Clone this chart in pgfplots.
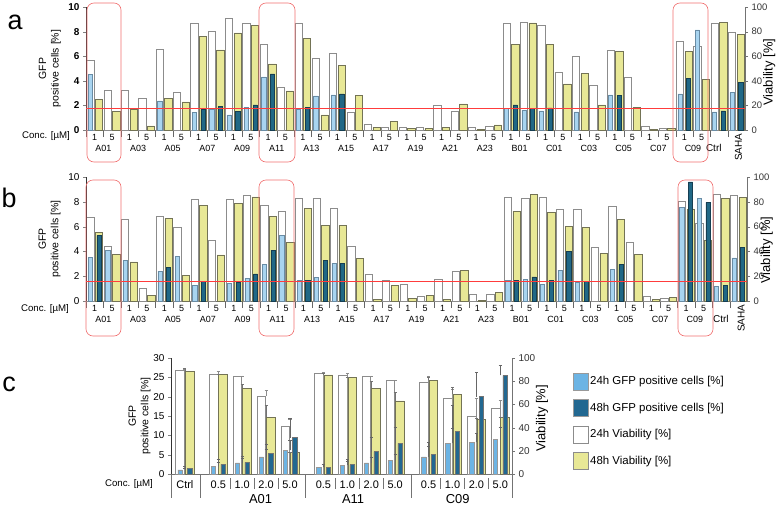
\documentclass[border=0pt]{standalone}
\usepackage{pgfplots}
\pgfplotsset{compat=1.18}
\usepackage{pgfplotstable}
\usepackage{fontspec}
\setmainfont{Liberation Sans}

\definecolor{vyel}{RGB}{232,232,150}
\definecolor{vyeldraw}{RGB}{115,115,85}
\definecolor{gblue}{RGB}{168,212,240}
\definecolor{gbluedraw}{RGB}{105,140,165}
\definecolor{gdark}{RGB}{32,104,134}
\definecolor{gdarkdraw}{RGB}{22,62,82}
\definecolor{cblue}{RGB}{108,180,228}
\definecolor{cdark}{RGB}{34,104,145}
\definecolor{redl}{RGB}{255,60,60}
\definecolor{boxred}{RGB}{240,110,110}

% n = concentration index (A01 1uM = 0, A01 5uM = 1, ... C09 5uM = 35, Ctrl = 36, SAHA = 37)
\pgfplotstableread{
n v24 v48 g24 g48
0 56.5 24.7 4.5 nan
1 32.6 15.2 nan nan
2 32.6 17.1 nan nan
3 25.5 3.3 nan nan
4 66.0 25.5 2.36 nan
5 30.4 22.8 nan nan
6 87.0 75.8 1.44 1.66
7 80.0 65.2 1.71 1.90
8 90.5 79.0 1.22 1.49
9 87.0 85.0 1.85 2.04
10 69.3 53.8 4.32 4.57
11 35.0 31.8 nan nan
12 87.0 74.2 1.68 1.85
13 58.7 12.2 2.77 nan
14 62.0 52.2 2.85 2.93
15 14.7 28.3 nan nan
16 4.9 2.2 nan nan
17 2.2 6.8 nan nan
18 2.4 1.6 nan nan
19 2.4 1.6 nan nan
20 20.4 2.2 nan nan
21 15.5 21.2 nan nan
22 2.4 0.5 nan nan
23 3.0 4.1 nan nan
24 87.0 69.6 1.77 2.04
25 87.5 87.0 1.60 1.74
26 84.8 69.8 1.55 1.79
27 46.7 37.5 nan nan
28 59.8 45.7 1.47 nan
29 36.1 20.4 nan nan
30 65.2 63.6 2.85 2.80
31 42.9 18.5 nan nan
32 3.3 0.8 nan nan
33 1.6 1.6 nan nan
34 72.3 64.1 2.93 4.20
35 68.2 41.3 8.15 nan
36 86.4 87.2 1.47 1.55
37 79.6 78.0 3.04 3.86
}\dataA

\pgfplotstableread{
n v24 v48 g24 g48
0 67.2 55.6 3.49 5.27
1 44.1 37.6 4.11 nan
2 65.9 31.5 3.25 nan
3 10.5 4.6 nan nan
4 68.0 66.7 2.39 2.74
5 59.4 20.7 3.60 nan
6 81.7 77.2 1.26 1.61
7 48.9 37.1 nan nan
8 82.0 78.8 1.45 1.50
9 85.2 83.9 1.83 2.18
10 77.2 68.3 2.96 4.11
11 72.3 47.3 5.27 nan
12 82.8 74.7 1.64 1.67
13 82.8 60.8 1.88 3.30
14 74.5 61.0 3.04 3.06
15 44.4 34.1 nan nan
16 21.2 1.3 nan nan
17 16.7 12.6 nan nan
18 13.4 1.9 nan nan
19 3.5 4.3 nan nan
20 17.7 1.3 nan nan
21 23.9 25.0 nan nan
22 5.1 0.5 nan nan
23 5.4 7.0 nan nan
24 83.3 72.3 1.67 1.69
25 82.5 86.0 1.75 1.94
26 83.3 71.2 1.37 1.64
27 73.9 60.0 2.50 4.03
28 73.9 59.4 1.53 1.61
29 43.3 38.4 nan nan
30 76.3 65.9 2.55 2.96
31 47.3 37.4 nan nan
32 3.5 1.3 nan nan
33 2.4 2.7 nan nan
34 80.4 74.2 7.58 9.60
35 63.0 49.0 8.30 7.96
36 86.3 82.5 1.16 1.26
37 85.2 83.6 3.47 4.30
}\dataB

\pgfplotstableread{
x v24 ev24 v48 ev48 g24 eg24 g48 eg48
0 89.0 1.5 88.5 2.5 1.1 0.5 1.4 0.6
1.4 85.6 3.0 85.6 0.6 2.0 1.1 2.5 1.2
2.4 84.1 0.6 74.0 3.5 2.9 1.2 3.0 1.7
3.4 67.4 4.9 49.0 10.0 4.4 2.1 5.4 2.2
4.4 41.0 6.0 18.3 0.3 6.1 2.7 9.4 4.9
5.8 87.0 0.5 85.5 1.0 1.7 0.9 1.8 0.8
6.8 85.0 1.5 83.0 0.3 2.3 1.0 2.4 1.4
7.8 84.0 0.5 74.0 6.0 2.9 1.5 5.8 3.8
8.8 80.5 0.5 63.0 7.5 3.5 1.7 7.9 4.1
10.2 79.0 5.7 80.7 3.0 4.4 2.7 5.0 3.1
11.2 65.3 8.0 68.8 5.7 8.0 3.9 11.0 6.9
12.2 50.0 15.0 47.4 0.3 8.2 2.4 20.0 6.3
13.2 56.8 6.8 48.9 0.3 8.9 3.3 25.5 2.5
}\dataC

\pgfplotsset{
  sqleg/.style={legend image code/.code={\draw[##1] (0bp,-8.5bp) rectangle (15bp,8.5bp);}},
  abV/.style={
    scale only axis, xmin=-0.5, xmax=37.5, ymin=0, ymax=100,
    axis x line*=bottom, axis y line*=right,
    axis line style={black!55},
    ytick={0,20,...,100},
    tick align=outside, major tick length=3bp,
    ytick style={black!55},
    xtick={0,...,35},
    xticklabels={1,5,1,5,1,5,1,5,1,5,1,5,1,5,1,5,1,5,1,5,1,5,1,5,1,5,1,5,1,5,1,5,1,5,1,5},
    major x tick style={draw=none},
    minor xtick={-0.5,0.5,...,36.5},
    minor x tick style={black!60},
    minor tick length=7bp,
    y tick label style={font=\fontsize{9.5}{11}\selectfont, text=black!80},
    x tick label style={font=\fontsize{9}{11}\selectfont, inner sep=1bp},
    /pgf/number format/assume math mode=true,
    clip=false,
    extra x ticks={0.5,2.5,...,34.5},
    extra x tick labels={A01,A03,A05,A07,A09,A11,A13,A15,A17,A19,A21,A23,B01,C01,C03,C05,C07,C09},
    extra x tick style={major x tick style={draw=none}, tick label style={yshift=-11bp, font=\fontsize{10}{12}\selectfont}},
  },
  abG/.style={
    scale only axis, xmin=-0.5, xmax=37.5, ymin=0, ymax=10,
    hide x axis, axis y line*=left, axis line style={black!80},
    ytick={0,2,...,10},
    tick align=outside, major tick length=3bp,
    /pgf/number format/assume math mode=true,
    clip=false,
    every axis y label/.style={at={(axis description cs:-0.055,0.5)}, rotate=90, anchor=center, align=center, font=\fontsize{10.5}{12.5}\selectfont},
  },
  ebar/.style={error bars/.cd, y dir=plus, y explicit,
    error bar style={#1, line width=0.5pt},
    error mark options={rotate=90, #1, mark size=1.6bp, line width=0.5pt}},
}

\begin{document}
\begin{tikzpicture}
\path[use as bounding box] (0bp,0bp) rectangle (783bp,-506bp);

% ---------------- panel a ----------------
\node[font=\fontsize{27}{27}\selectfont] at (15bp,-22bp) {a};
\node[font=\fontsize{9.7}{11}\selectfont] at (46bp,-136bp) {Conc. [µM]};
\begin{axis}[abV, at={(86bp,-130bp)}, anchor=south west, width=659bp, height=123bp,
  every axis y label/.style={at={(axis description cs:1.037,0.47)}, rotate=90, anchor=center, font=\fontsize{13}{15}\selectfont},
  ylabel={Viability [\%]}]
  \addplot[ybar, bar width=0.42, bar shift=-0.25, fill=white, draw=black!45, line width=0.6pt] table[x=n,y=v24]{\dataA};
  \addplot[ybar, bar width=0.42, bar shift=0.25, fill=vyel, draw=vyeldraw, line width=0.6pt] table[x=n,y=v48]{\dataA};
  \node[font=\fontsize{10}{12}\selectfont, yshift=-18bp] at (axis cs:35.7,0) {Ctrl};
  \node[font=\fontsize{10}{12}\selectfont, rotate=90, anchor=east, yshift=-2bp] at (axis cs:37.0,0) {SAHA};
\end{axis}
\begin{axis}[abG, at={(86bp,-130bp)}, anchor=south west, width=659bp, height=123bp,
  y tick label style={font=\fontsize{10}{12}\selectfont\bfseries},
  ylabel={GFP\\positive cells [\%]}]
  \addplot[ybar, bar width=0.24, bar shift=-0.25, fill=gblue, draw=gbluedraw, line width=0.5pt] table[x=n,y=g24]{\dataA};
  \addplot[ybar, bar width=0.24, bar shift=0.25, fill=gdark, draw=gdarkdraw, line width=0.5pt] table[x=n,y=g48]{\dataA};
  \addplot[draw=redl, line width=1.2pt, mark=none] coordinates {(-0.5,1.75) (37.5,1.75)};
\end{axis}

% ---------------- panel b ----------------
\node[font=\fontsize{27}{27}\selectfont] at (9bp,-198bp) {b};
\node[font=\fontsize{9.7}{11}\selectfont] at (45bp,-309bp) {Conc. [µM]};
\begin{axis}[abV, at={(86bp,-301bp)}, anchor=south west, width=661bp, height=124bp,
  every axis y label/.style={at={(axis description cs:1.03,0.41)}, rotate=90, anchor=center, font=\fontsize{13}{15}\selectfont},
  ylabel={Viability [\%]}]
  \addplot[ybar, bar width=0.42, bar shift=-0.25, fill=white, draw=black!45, line width=0.6pt] table[x=n,y=v24]{\dataB};
  \addplot[ybar, bar width=0.42, bar shift=0.25, fill=vyel, draw=vyeldraw, line width=0.6pt] table[x=n,y=v48]{\dataB};
  \node[font=\fontsize{10}{12}\selectfont, yshift=-18bp] at (axis cs:36.0,0) {Ctrl};
  \node[font=\fontsize{10}{12}\selectfont, rotate=90, anchor=east, yshift=-3bp] at (axis cs:37.0,0) {SAHA};
\end{axis}
\begin{axis}[abG, at={(86bp,-301bp)}, anchor=south west, width=661bp, height=124bp,
  y tick label style={font=\fontsize{10}{12}\selectfont},
  ylabel={GFP\\positive cells [\%]}]
  \addplot[ybar, bar width=0.24, bar shift=-0.25, fill=gblue, draw=gbluedraw, line width=0.5pt] table[x=n,y=g24]{\dataB};
  \addplot[ybar, bar width=0.24, bar shift=0.25, fill=gdark, draw=gdarkdraw, line width=0.5pt] table[x=n,y=g48]{\dataB};
  \addplot[draw=redl, line width=1.2pt, mark=none] coordinates {(-0.5,1.58) (37.5,1.58)};
\end{axis}

% ---------------- panel c ----------------
\node[font=\fontsize{27}{27}\selectfont] at (9bp,-384bp) {c};
\node[font=\fontsize{9.7}{11}\selectfont] at (129bp,-484bp) {Conc. [µM]};
\begin{axis}[at={(171bp,-474bp)}, anchor=south west, width=341bp, height=116bp,
  scale only axis, xmin=-0.58, xmax=13.69, ymin=0, ymax=100,
  axis x line*=bottom, axis y line*=right, axis line style={black!55},
  ytick={0,20,...,100}, tick align=outside, major tick length=3bp, ytick style={black!55},
  xtick={0,1.4,2.4,3.4,4.4,5.8,6.8,7.8,8.8,10.2,11.2,12.2,13.2},
  xticklabels={Ctrl,0.5,1.0,2.0,5.0,0.5,1.0,2.0,5.0,0.5,1.0,2.0,5.0},
  major x tick style={draw=none},
  y tick label style={font=\fontsize{10}{12}\selectfont, text=black!80},
  x tick label style={font=\fontsize{11}{13}\selectfont},
  /pgf/number format/assume math mode=true, clip=false,
  every axis y label/.style={at={(axis description cs:1.088,0.48)}, rotate=90, anchor=center, font=\fontsize{13}{15}\selectfont},
  ylabel={Viability [\%]}]
  \addplot[ybar, bar width=0.36, bar shift=-0.2, fill=white, draw=black!45, line width=0.6pt, ebar=black!45]
    table[x=x, y=v24, y error=ev24]{\dataC};
  \addplot[ybar, bar width=0.36, bar shift=0.2, fill=vyel, draw=vyeldraw, line width=0.6pt, ebar=black!55]
    table[x=x, y=v48, y error=ev48]{\dataC};
  % group separators
  \draw[black!55] (axis cs:-0.58,0) -- ++(0bp,-24bp);
  \draw[black!55] (axis cs:0.64,0) -- ++(0bp,-24bp);
  \draw[black!55] (axis cs:5.03,0) -- ++(0bp,-24bp);
  \draw[black!55] (axis cs:9.46,0) -- ++(0bp,-24bp);
  \draw[black!55] (axis cs:13.69,0) -- ++(0bp,-24bp);
  \draw[black!55] (axis cs:1.9,0) ++(0bp,-4bp) -- ++(0bp,-11bp);
  \draw[black!55] (axis cs:2.9,0) ++(0bp,-4bp) -- ++(0bp,-11bp);
  \draw[black!55] (axis cs:3.9,0) ++(0bp,-4bp) -- ++(0bp,-11bp);
  \draw[black!55] (axis cs:6.3,0) ++(0bp,-4bp) -- ++(0bp,-11bp);
  \draw[black!55] (axis cs:7.3,0) ++(0bp,-4bp) -- ++(0bp,-11bp);
  \draw[black!55] (axis cs:8.3,0) ++(0bp,-4bp) -- ++(0bp,-11bp);
  \draw[black!55] (axis cs:10.7,0) ++(0bp,-4bp) -- ++(0bp,-11bp);
  \draw[black!55] (axis cs:11.7,0) ++(0bp,-4bp) -- ++(0bp,-11bp);
  \draw[black!55] (axis cs:12.7,0) ++(0bp,-4bp) -- ++(0bp,-11bp);
  \node[font=\fontsize{13}{15}\selectfont, yshift=-25bp] at (axis cs:3.17,0) {A01};
  \node[font=\fontsize{13}{15}\selectfont, yshift=-25bp] at (axis cs:7.04,0) {A11};
  \node[font=\fontsize{13}{15}\selectfont, yshift=-25bp] at (axis cs:11.42,0) {C09};
\end{axis}
\begin{axis}[at={(171bp,-474bp)}, anchor=south west, width=341bp, height=116bp,
  scale only axis, xmin=-0.58, xmax=13.69, ymin=0, ymax=30,
  hide x axis, axis y line*=left, axis line style={black!80},
  ytick={0,5,...,30}, tick align=outside, major tick length=3bp,
  y tick label style={font=\fontsize{10}{12}\selectfont},
  /pgf/number format/assume math mode=true, clip=false,
  every axis y label/.style={at={(axis description cs:-0.092,0.5)}, rotate=90, anchor=center, align=center, font=\fontsize{10.5}{12.5}\selectfont},
  ylabel={GFP\\positive cells [\%]},
  legend cell align=left,
  legend style={at={(axis description cs:1.179,0.875)}, anchor=north west, draw=none, fill=none,
    inner sep=0pt, row sep=9bp, font=\fontsize{11.5}{13}\selectfont, nodes={inner sep=1.5bp}}]
  \addplot[ybar, bar width=0.18, bar shift=-0.2, fill=cblue, draw=black!40, line width=0.5pt, forget plot, ebar=black!60]
    table[x=x, y=g24, y error=eg24]{\dataC};
  \addplot[ybar, bar width=0.18, bar shift=0.2, fill=cdark, draw=black!55, line width=0.5pt, forget plot, ebar=black!60]
    table[x=x, y=g48, y error=eg48]{\dataC};
  \addlegendimage{sqleg, fill=cblue, draw=black!40}
  \addlegendentry{24h GFP positive cells [\%]}
  \addlegendimage{sqleg, fill=cdark, draw=black!40}
  \addlegendentry{48h GFP positive cells [\%]}
  \addlegendimage{sqleg, fill=white, draw=black!45}
  \addlegendentry{24h Viability [\%]}
  \addlegendimage{sqleg, fill=vyel, draw=black!45}
  \addlegendentry{48h Viability [\%]}
\end{axis}

% red highlight frames
\draw[boxred, line width=0.6pt, rounded corners=7bp] (87bp,-3bp) rectangle (121bp,-162bp);
\draw[boxred, line width=0.6pt, rounded corners=7bp] (259bp,-3bp) rectangle (295bp,-162bp);
\draw[boxred, line width=0.6pt, rounded corners=7bp] (673bp,-3bp) rectangle (708bp,-162bp);
\draw[boxred, line width=0.6pt, rounded corners=7bp] (86bp,-180bp) rectangle (121bp,-336bp);
\draw[boxred, line width=0.6pt, rounded corners=7bp] (259bp,-180bp) rectangle (294bp,-336bp);
\draw[boxred, line width=0.6pt, rounded corners=7bp] (678bp,-180bp) rectangle (713bp,-336bp);
\end{tikzpicture}
\end{document}
